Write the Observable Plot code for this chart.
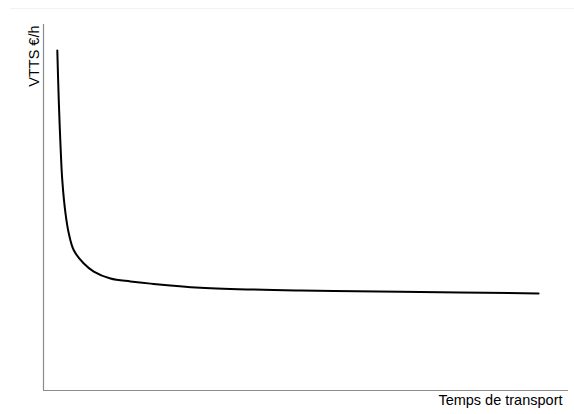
<!DOCTYPE html>
<html>
<head>
<meta charset="utf-8">
<script src="https://cdn.jsdelivr.net/npm/d3@7"></script>
<script src="https://cdn.jsdelivr.net/npm/@observablehq/plot@0.6"></script>
<style>
  html, body { margin: 0; padding: 0; background: #fff; }
  #chart { width: 574px; height: 414px; }
</style>
</head>
<body>
<div id="chart"></div>
<script>
// Transport time (arbitrary units) and VTTS (arbitrary units)
const temps = [2.63, 2.91, 3.20, 3.58, 4.19, 4.82, 5.77, 7.68, 9.58, 12.76, 16.57, 20.4, 29.9, 49, 68, 94.3];
const vtts  = [92.9, 79.2, 68.3, 57.4, 48.4, 42.9, 38.3, 34.7, 32.5, 30.6, 29.8, 29.2, 28.1, 27.3, 27.0, 26.5];
const xLabel = "Temps de transport";
const yLabel = "VTTS €/h";

const data = temps.map((t, i) => ({t, v: vtts[i]}));

const chart = Plot.plot({
  width: 574,
  height: 414,
  marginLeft: 43,
  marginRight: 6,
  marginTop: 24,
  marginBottom: 24,
  style: {fontFamily: "'Liberation Sans', Arial, sans-serif", fontSize: "14.5px", background: "#fff"},
  x: {domain: [0, 100], axis: null},
  y: {domain: [0, 100], axis: null},
  marks: [
    Plot.ruleY([104.4], {x1: -6.3, x2: 101.2, stroke: "#eef2f2", strokeWidth: 1}),
    Plot.ruleX([0], {stroke: "#8c8c8c", strokeWidth: 1.2}),
    Plot.ruleY([0], {stroke: "#8c8c8c", strokeWidth: 1.2}),
    Plot.line(data, {x: "t", y: "v", curve: "catmull-rom", stroke: "#000", strokeWidth: 2}),
    Plot.text([xLabel], {frameAnchor: "bottom-right", textAnchor: "end", dx: -6, dy: 14, fill: "#000", fontSize: 14.5}),
    Plot.text([yLabel], {frameAnchor: "top-left", rotate: -90, textAnchor: "end", dx: -15, dy: 1, fill: "#000", fontSize: 14.5})
  ]
});
document.getElementById("chart").appendChild(chart);
</script>
</body>
</html>
